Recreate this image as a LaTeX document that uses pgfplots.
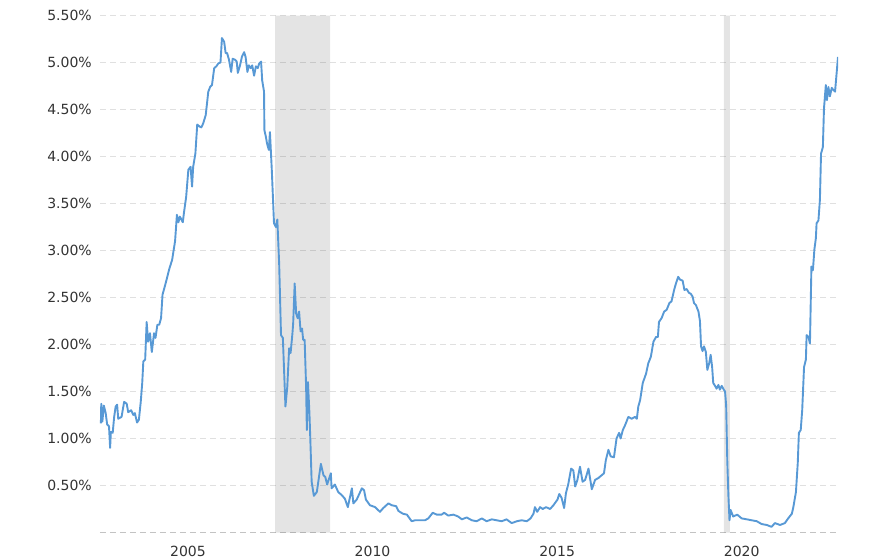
\documentclass[border=0pt]{standalone}
\usepackage{pgfplots}
\pgfplotsset{compat=1.18}
\usepackage{fontspec}
\setmainfont{DejaVu Sans}
\definecolor{linecol}{RGB}{88,153,213}
\definecolor{gridcol}{RGB}{224,224,224}
\definecolor{basecol}{RGB}{195,195,195}
\definecolor{labcol}{RGB}{51,51,51}
\begin{document}
\begin{tikzpicture}
\path[use as bounding box] (-100bp,-27.5bp) rectangle (788bp,532.5bp);
\begin{axis}[
  at={(0,0)}, anchor=south west,
  scale only axis, width=738bp, height=517bp,
  xmin=2002.616, xmax=2022.61, ymin=0, ymax=5.5,
  axis line style={draw=none},
  major tick length=0pt,
  xtick={2005,2010,2015,2020},
  xticklabels={2005,2010,2015,2020},
  ytick={0.5,1,1.5,2,2.5,3,3.5,4,4.5,5,5.5},
  yticklabels={0.50\%,1.00\%,1.50\%,2.00\%,2.50\%,3.00\%,3.50\%,4.00\%,4.50\%,5.00\%,5.50\%},
  extra y ticks={0}, extra y tick labels={},
  extra y tick style={grid style={basecol, line width=1.4bp, dash pattern=on 6bp off 4bp}},
  ymajorgrids, xmajorgrids=false,
  grid style={gridcol, line width=1.4bp, dash pattern=on 6bp off 4bp},
  tick label style={font=\fontsize{14bp}{16bp}\selectfont, text=labcol},
  yticklabel style={anchor=east, inner sep=0pt, xshift=-8bp},
  xticklabel style={anchor=center, inner sep=0pt, yshift=-19bp},
  /pgf/number format/assume math mode=true,
]
\addplot[draw=none, fill=black, fill opacity=0.105] coordinates {(2007.36,0) (2007.36,5.5) (2008.85,5.5) (2008.85,0)} \closedcycle;
\addplot[draw=none, fill=black, fill opacity=0.105] coordinates {(2019.52,0) (2019.52,5.5) (2019.68,5.5) (2019.68,0)} \closedcycle;
\addplot[linecol, line width=1.9bp, line join=round] coordinates {
(2002.64,1.16) (2002.65,1.37) (2002.68,1.18) (2002.72,1.35) (2002.77,1.27) (2002.81,1.15) (2002.86,1.13) (2002.89,0.90) (2002.91,1.07) (2002.96,1.06)
(2003.00,1.23) (2003.04,1.34) (2003.08,1.36) (2003.11,1.21) (2003.20,1.23) (2003.27,1.39) (2003.34,1.37) (2003.38,1.28) (2003.46,1.30) (2003.52,1.25)
(2003.56,1.27) (2003.62,1.17) (2003.67,1.20) (2003.72,1.39) (2003.76,1.59) (2003.79,1.82) (2003.84,1.84) (2003.88,2.24) (2003.92,2.03) (2003.97,2.12)
(2004.02,1.92) (2004.08,2.12) (2004.12,2.07) (2004.17,2.21) (2004.22,2.21) (2004.27,2.28) (2004.31,2.53) (2004.38,2.63) (2004.42,2.69) (2004.49,2.80)
(2004.57,2.90) (2004.65,3.10) (2004.70,3.38) (2004.74,3.30) (2004.78,3.36) (2004.86,3.30) (2004.89,3.40) (2004.95,3.57) (2005.01,3.86) (2005.07,3.89)
(2005.11,3.68) (2005.14,3.89) (2005.20,4.03) (2005.25,4.34) (2005.31,4.32) (2005.36,4.31) (2005.41,4.35) (2005.48,4.44) (2005.55,4.69) (2005.60,4.74)
(2005.65,4.76) (2005.71,4.94) (2005.77,4.96) (2005.82,4.99) (2005.88,5.00) (2005.92,5.26) (2005.98,5.22) (2006.02,5.10) (2006.06,5.10) (2006.11,5.03)
(2006.17,4.90) (2006.21,5.04) (2006.27,5.03) (2006.32,5.01) (2006.35,4.89) (2006.41,4.97) (2006.46,5.06) (2006.52,5.11) (2006.56,5.06) (2006.61,4.90)
(2006.65,4.97) (2006.70,4.94) (2006.74,4.97) (2006.79,4.86) (2006.84,4.96) (2006.89,4.94) (2006.93,4.99) (2006.98,5.01) (2007.01,4.81) (2007.06,4.69)
(2007.07,4.28) (2007.11,4.21) (2007.14,4.14) (2007.19,4.07) (2007.22,4.26) (2007.27,3.86) (2007.33,3.29) (2007.38,3.25) (2007.42,3.33) (2007.47,2.86)
(2007.52,2.10) (2007.57,2.07) (2007.64,1.34) (2007.69,1.55) (2007.74,1.96) (2007.78,1.91) (2007.83,2.12) (2007.85,2.23) (2007.89,2.65) (2007.93,2.33)
(2007.97,2.28) (2008.01,2.35) (2008.05,2.14) (2008.09,2.17) (2008.12,2.05) (2008.16,2.05) (2008.20,1.55) (2008.22,1.09) (2008.25,1.60) (2008.29,1.27)
(2008.32,0.92) (2008.35,0.54) (2008.41,0.39) (2008.49,0.43) (2008.60,0.73) (2008.67,0.61) (2008.72,0.59) (2008.77,0.51) (2008.87,0.63) (2008.89,0.47)
(2008.98,0.51) (2009.07,0.43) (2009.16,0.40) (2009.25,0.36) (2009.33,0.27) (2009.44,0.47) (2009.48,0.31) (2009.57,0.35) (2009.71,0.47) (2009.77,0.45)
(2009.82,0.35) (2009.93,0.29) (2010.07,0.27) (2010.20,0.22) (2010.29,0.26) (2010.43,0.31) (2010.52,0.29) (2010.64,0.28) (2010.70,0.23) (2010.82,0.20)
(2010.93,0.19) (2011.06,0.12) (2011.15,0.13) (2011.29,0.13) (2011.42,0.13) (2011.51,0.15) (2011.63,0.21) (2011.74,0.19) (2011.87,0.19) (2011.94,0.21)
(2012.05,0.18) (2012.19,0.19) (2012.32,0.17) (2012.42,0.14) (2012.55,0.16) (2012.69,0.13) (2012.82,0.12) (2012.96,0.15) (2013.09,0.12) (2013.23,0.14)
(2013.36,0.13) (2013.50,0.12) (2013.63,0.14) (2013.77,0.10) (2013.91,0.12) (2014.04,0.13) (2014.18,0.12) (2014.28,0.15) (2014.36,0.20) (2014.40,0.27)
(2014.46,0.22) (2014.54,0.27) (2014.61,0.25) (2014.70,0.27) (2014.81,0.25) (2014.90,0.29) (2015.01,0.35) (2015.06,0.41) (2015.12,0.37) (2015.19,0.26)
(2015.24,0.42) (2015.30,0.51) (2015.38,0.68) (2015.44,0.66) (2015.49,0.49) (2015.55,0.56) (2015.62,0.70) (2015.69,0.54) (2015.76,0.56) (2015.85,0.68)
(2015.94,0.46) (2016.03,0.56) (2016.12,0.58) (2016.21,0.61) (2016.27,0.63) (2016.32,0.77) (2016.39,0.88) (2016.45,0.81) (2016.54,0.80) (2016.61,1.00)
(2016.68,1.06) (2016.72,1.00) (2016.78,1.09) (2016.84,1.14) (2016.93,1.23) (2017.02,1.21) (2017.11,1.23) (2017.16,1.21) (2017.20,1.34) (2017.25,1.41)
(2017.32,1.59) (2017.41,1.69) (2017.47,1.80) (2017.54,1.87) (2017.61,2.03) (2017.68,2.08) (2017.73,2.08) (2017.76,2.24) (2017.83,2.28) (2017.90,2.35)
(2017.97,2.37) (2018.04,2.44) (2018.10,2.46) (2018.17,2.58) (2018.22,2.65) (2018.28,2.72) (2018.33,2.69) (2018.40,2.68) (2018.45,2.58) (2018.51,2.59)
(2018.57,2.55) (2018.62,2.54) (2018.67,2.51) (2018.71,2.44) (2018.76,2.42) (2018.83,2.35) (2018.87,2.25) (2018.90,1.98) (2018.94,1.93) (2018.98,1.98)
(2019.03,1.92) (2019.07,1.73) (2019.12,1.80) (2019.16,1.89) (2019.20,1.76) (2019.23,1.59) (2019.28,1.56) (2019.32,1.53) (2019.37,1.57) (2019.41,1.52)
(2019.46,1.56) (2019.50,1.53) (2019.55,1.50) (2019.58,1.35) (2019.61,0.77) (2019.64,0.40) (2019.67,0.13) (2019.70,0.24) (2019.77,0.17) (2019.88,0.19)
(2020.00,0.15) (2020.14,0.14) (2020.27,0.13) (2020.41,0.12) (2020.54,0.09) (2020.68,0.08) (2020.81,0.06) (2020.90,0.10) (2021.04,0.08) (2021.17,0.10)
(2021.26,0.15) (2021.36,0.20) (2021.40,0.27) (2021.47,0.43) (2021.52,0.74) (2021.55,1.06) (2021.60,1.09) (2021.64,1.30) (2021.69,1.76) (2021.74,1.84)
(2021.76,2.10) (2021.81,2.08) (2021.85,2.01) (2021.89,2.83) (2021.93,2.79) (2021.97,3.01) (2022.01,3.13) (2022.03,3.29) (2022.08,3.32) (2022.12,3.54)
(2022.15,4.03) (2022.20,4.10) (2022.23,4.51) (2022.28,4.76) (2022.31,4.60) (2022.35,4.74) (2022.39,4.64) (2022.44,4.73) (2022.48,4.71) (2022.53,4.69)
(2022.58,4.92) (2022.61,5.06)
};
\end{axis}
\end{tikzpicture}
\end{document}
